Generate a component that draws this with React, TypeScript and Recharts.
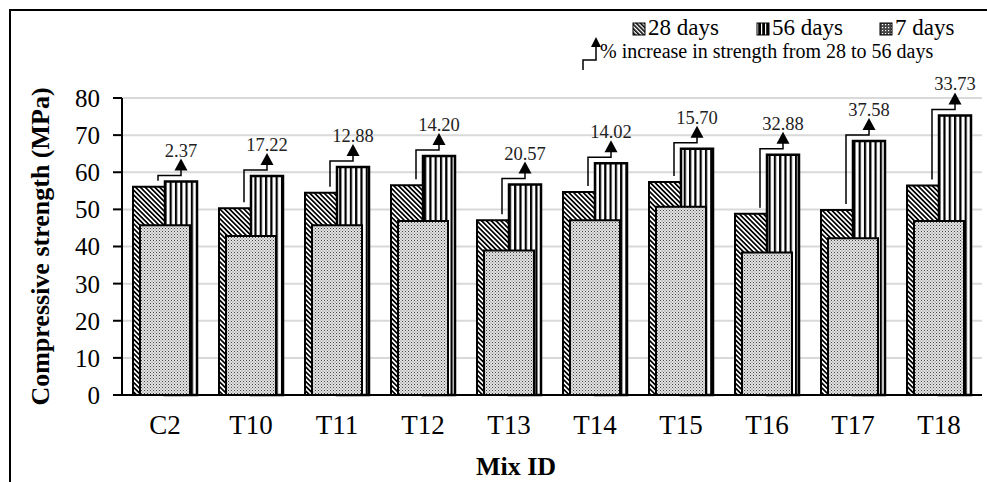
import React from "react";
import {
  ComposedChart,
  Bar,
  XAxis,
  YAxis,
  CartesianGrid,
  Legend,
  Label,
  Rectangle,
} from "recharts";

const mixIds = ["C2", "T10", "T11", "T12", "T13", "T14", "T15", "T16", "T17", "T18"];
const days28 = [56.1, 50.3, 54.5, 56.5, 47.1, 54.7, 57.4, 48.8, 49.8, 56.4];
const days56 = [57.5, 59.0, 61.4, 64.4, 56.7, 62.4, 66.3, 64.7, 68.4, 75.3];
const days7 = [45.7, 42.8, 45.7, 46.9, 38.9, 47.1, 50.7, 38.4, 42.2, 46.9];
const increase = ["2.37", "17.22", "12.88", "14.20", "20.57", "14.02", "15.70", "32.88", "37.58", "33.73"];
const yTicks = [0, 10, 20, 30, 40, 50, 60, 70, 80];
const minorTicks = [
  0, 2, 4, 6, 8, 10, 12, 14, 16, 18, 20, 22, 24, 26, 28, 30, 32, 34, 36, 38, 40,
  42, 44, 46, 48, 50, 52, 54, 56, 58, 60, 62, 64, 66, 68, 70, 72, 74, 76, 78, 80,
];

const data = mixIds.map((id, i) => ({
  id,
  d28: days28[i],
  d56: days56[i],
  d7: days7[i],
  pct: increase[i],
}));

const FONT = '"Times New Roman", "Liberation Serif", serif';

// 56-day bar plus the bracket arrow from the 28-day top
function Bar56Shape(props: any) {
  const { x, y, width, height, payload } = props;
  if (!payload || !height) return null;
  const unit = height / payload.d56;
  const y28 = y + height - payload.d28 * unit;
  const lx = x - 7;
  const ax = x + width / 2;
  const hy = y - 6;
  const sy = Math.max(y28 - 6, hy + 5);
  const tip = y - 23;
  return (
    <g>
      <Rectangle
        x={x}
        y={y}
        width={width}
        height={height}
        fill="url(#stripes56)"
        stroke="#000"
        strokeWidth={2.5}
      />
      <polyline
        points={`${lx},${sy} ${lx},${hy} ${ax},${hy} ${ax},${tip + 10}`}
        fill="none"
        stroke="#000"
        strokeWidth={1.5}
      />
      <polygon points={`${ax - 6.5},${tip + 12} ${ax + 6.5},${tip + 12} ${ax},${tip}`} fill="#000" />
      <text x={ax} y={tip - 2} textAnchor="middle" fontSize={18.5} fontFamily={FONT} fill="#222">
        {payload.pct}
      </text>
    </g>
  );
}

function LegendBox() {
  return (
    <svg width={410} height={58} style={{ display: "block", fontFamily: FONT }}>
      <defs>
        <pattern id="lg28" patternUnits="userSpaceOnUse" width="3" height="3" patternTransform="rotate(-45)">
          <rect width="3" height="3" fill="#fff" />
          <rect width="1.6" height="3" fill="#000" />
        </pattern>
        <pattern id="lg56" patternUnits="userSpaceOnUse" width="4" height="4">
          <rect width="4" height="4" fill="#000" />
          <rect x="2" width="1.2" height="4" fill="#fff" />
        </pattern>
        <pattern id="lg7" patternUnits="userSpaceOnUse" width="3" height="3">
          <rect width="3" height="3" fill="#444" />
          <rect x="1" y="1" width="1.2" height="1.2" fill="#fff" />
        </pattern>
      </defs>
      <rect x={58} y={9} width={12} height={12} fill="url(#lg28)" stroke="#000" strokeWidth={1} />
      <text x={73} y={21} fontSize={23} fill="#000">28 days</text>
      <rect x={182} y={9} width={12} height={12} fill="url(#lg56)" stroke="#000" strokeWidth={1} />
      <text x={197} y={21} fontSize={23} fill="#000">56 days</text>
      <rect x={305} y={9} width={12} height={12} fill="url(#lg7)" stroke="#000" strokeWidth={1} />
      <text x={320} y={21} fontSize={23} fill="#000">7 days</text>
      <polyline points="8,56 8,46 21,46 21,32" fill="none" stroke="#000" strokeWidth={1.5} />
      <polygon points="16,33 26,33 21,23" fill="#000" />
      <text x={25} y={44} fontSize={20} fill="#000">% increase in strength from 28 to 56 days</text>
    </svg>
  );
}

export default function App() {
  return (
    <div
      style={{
        position: "absolute",
        left: 0,
        top: 0,
        width: 987,
        height: 482,
        background: "#fff",
        fontFamily: FONT,
        overflow: "hidden",
      }}
    >
      <div
        style={{
          position: "absolute",
          left: 9,
          top: 9,
          width: 990,
          height: 490,
          borderLeft: "2px solid #000",
          borderTop: "2px solid #000",
        }}
      />
      <ComposedChart
        width={987}
        height={482}
        data={data}
        margin={{ top: 98, right: 5, bottom: 0, left: 10 }}
        barGap={0}
      >
        <defs>
          <pattern id="hatch28" patternUnits="userSpaceOnUse" width="3.4" height="3.4" patternTransform="rotate(-45)">
            <rect width="3.4" height="3.4" fill="#fff" />
            <rect width="1.7" height="3.4" fill="#000" />
          </pattern>
          <pattern id="stripes56" patternUnits="userSpaceOnUse" width="5.3" height="5">
            <rect width="5.3" height="5" fill="#fff" />
            <rect width="2.2" height="5" fill="#000" />
          </pattern>
          <pattern id="dots7" patternUnits="userSpaceOnUse" width="3" height="3">
            <rect width="3" height="3" fill="#e2e2e2" />
            <rect width="1" height="1" fill="#444" />
            <rect x="1.5" y="1.5" width="1" height="1" fill="#777" />
          </pattern>
        </defs>
        <CartesianGrid vertical={false} stroke="#d9d9d9" strokeWidth={2} />
        <XAxis
          dataKey="id"
          height={87}
          tickLine={false}
          axisLine={{ stroke: "#000", strokeWidth: 2 }}
          tick={{ fill: "#000", fontSize: 27 }}
          tickMargin={14}
          interval={0}
        >
          <Label
            value="Mix ID"
            position="insideBottom"
            offset={7}
            dx={-36}
            style={{ fontWeight: "bold", fontSize: 26, fill: "#000" }}
          />
        </XAxis>
        <XAxis xAxisId="over" dataKey="id" hide />
        <YAxis
          width={112}
          domain={[0, 80]}
          ticks={yTicks}
          interval={0}
          tickSize={9}
          tickMargin={13}
          axisLine={{ stroke: "#000", strokeWidth: 2 }}
          tickLine={{ stroke: "#000", strokeWidth: 2 }}
          tick={{ fill: "#000", fontSize: 25 }}
        >
          <Label
            value="Compressive strength (MPa)"
            angle={-90}
            position="insideLeft"
            offset={30}
            style={{ textAnchor: "middle", fontWeight: "bold", fontSize: 26, fill: "#000" }}
          />
        </YAxis>
        <YAxis
          yAxisId="minor"
          width={0}
          domain={[0, 80]}
          ticks={minorTicks}
          interval={0}
          mirror
          tick={false}
          tickSize={6}
          axisLine={false}
          tickLine={{ stroke: "#000", strokeWidth: 1.5 }}
        />
        <Legend
          verticalAlign="middle"
          align="center"
          layout="horizontal"
          wrapperStyle={{ top: 14, left: 575, width: 410, height: 58 }}
          content={() => <LegendBox />}
        />
        <Bar
          dataKey="d28"
          barSize={32}
          fill="url(#hatch28)"
          stroke="#000"
          strokeWidth={2}
          isAnimationActive={false}
        />
        <Bar dataKey="d56" barSize={32} shape={Bar56Shape} isAnimationActive={false} />
        <Bar
          dataKey="d7"
          xAxisId="over"
          barSize={50}
          fill="url(#dots7)"
          stroke="#000"
          strokeWidth={2}
          isAnimationActive={false}
        />
      </ComposedChart>
    </div>
  );
}
